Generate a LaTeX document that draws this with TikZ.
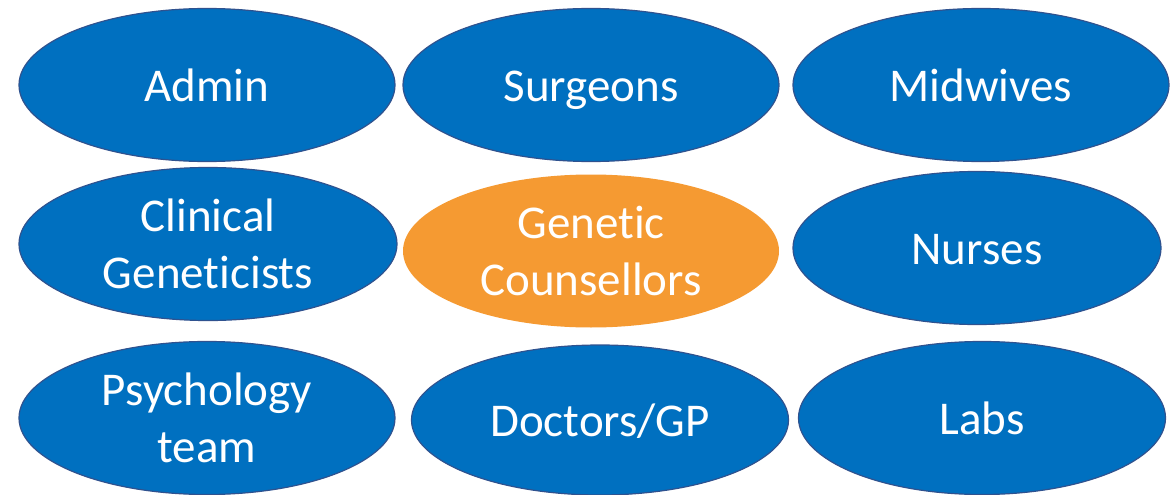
\documentclass[tikz,border=0pt]{standalone}
\usepackage{fontspec}
\setmainfont{Carlito}[Ligatures=NoCommon]
\usetikzlibrary{shapes.geometric}
\definecolor{roleblue}{HTML}{0070C0}
\definecolor{roleedge}{HTML}{2F528F}
\definecolor{gcorange}{HTML}{F59A32}
\tikzset{
  role/.style={ellipse,fill=roleblue,draw=roleedge,line width=1.2pt,inner sep=0pt,
    minimum width=376pt,minimum height=153pt,text=white,align=center,
    font=\fontsize{47}{57}\selectfont},
  oneline/.style={role,text height=33pt,text depth=0pt},
  centre/.style={role,fill=gcorange,draw=none}
}
\begin{document}
\begin{tikzpicture}[x=1pt,y=-1pt]
\useasboundingbox (0,0) rectangle (1176,495);
% top row
\node[oneline] (admin) at (207,85) {Admin};
\node[oneline] (surgeons) at (591,85) {Surgeons};
\node[oneline] (midwives) at (981,85) {Midwives};
% middle row
\node[role,minimum width=378pt] (clinical) at (208,244) {Clinical\\Geneticists};
\node[centre] (counsellors) at (591,251) {Genetic\\Counsellors};
\node[oneline,minimum width=368pt] (nurses) at (977,248) {Nurses};
% bottom row
\node[role] (psychology) at (207,418) {Psychology\\team};
\node[oneline,minimum width=377pt,minimum height=150pt] (doctors) at (600,420) {Doctors/GP};
\node[oneline,minimum width=367pt] (labs) at (982,418) {Labs};
\end{tikzpicture}
\end{document}
